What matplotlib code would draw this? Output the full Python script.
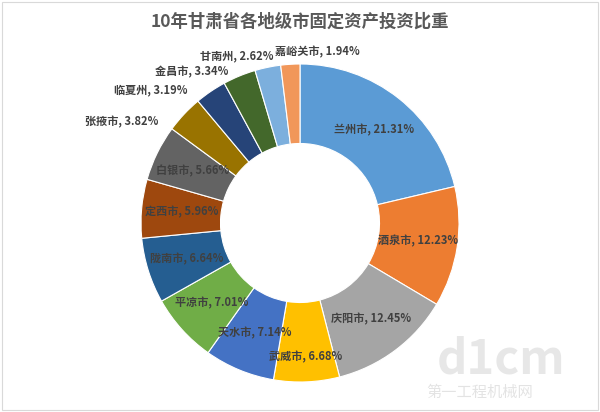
import numpy as np
import matplotlib.pyplot as plt
from matplotlib.patches import Rectangle

plt.rcParams['font.family'] = ['Noto Sans CJK SC', 'DejaVu Sans']

cities = ["兰州市", "酒泉市", "庆阳市", "武威市", "天水市", "平凉市", "陇南市",
          "定西市", "白银市", "张掖市", "临夏州", "金昌市", "甘南州", "嘉峪关市"]
shares = [21.31, 12.23, 12.45, 6.68, 7.14, 7.01, 6.64,
          5.96, 5.66, 3.82, 3.19, 3.34, 2.62, 1.94]
colors = ["#5B9BD5", "#ED7D31", "#A5A5A5", "#FFC000", "#4472C4", "#70AD47", "#255E91",
          "#9E480E", "#636363", "#997300", "#264478", "#43682B", "#7CAFDD", "#F1975A"]

# labels placed outside the ring (Excel best fit), position in units of radius
outside = {
    "张掖市": (-1.12, 0.635),
    "临夏州": (-0.94, 0.835),
    "金昌市": (-0.68, 0.95),
    "甘南州": (-0.40, 1.05),
    "嘉峪关市": (0.11, 1.075),
}
inside_r = {"武威市": 0.84}

W, H = 600, 412
cx, cy, R = 300, 223, 159

fig = plt.figure(figsize=(W / 100, H / 100), dpi=100)
fig.patch.set_facecolor("white")
fig.patches.append(Rectangle((2 / W, 2 / H), 1 - 4 / W, 1 - 4 / H, transform=fig.transFigure,
                             fill=False, edgecolor="#D9D9D9", linewidth=0.8))

ax = fig.add_axes([(cx - R) / W, (H - cy - R) / H, 2 * R / W, 2 * R / H])

wedges, _ = ax.pie(shares, colors=colors, startangle=90, counterclock=False,
                   radius=1.0, wedgeprops=dict(width=0.5, edgecolor="white", linewidth=0.8))
ax.set_xlim(-1, 1)
ax.set_ylim(-1, 1)
ax.set_aspect("equal")
ax.axis("off")

total = sum(shares)
cum = 0.0
for name, v in zip(cities, shares):
    mid = (cum + v / 2) / total * 360
    cum += v
    ang = np.deg2rad(90 - mid)
    txt = f"{name}, {v:.2f}%"
    if name in outside:
        x, y = outside[name]
    else:
        r = inside_r.get(name, 0.75)
        x, y = r * np.cos(ang), r * np.sin(ang)
    ax.text(x, y, txt, ha="center", va="center", fontsize=8,
            fontweight="bold", color="#404040", clip_on=False)

fig.text(0.5, 1 - 22 / H, "10年甘肃省各地级市固定资产投资比重", ha="center", va="center",
         fontsize=12.5, fontweight="bold", color="#595959")

# watermark
fig.text(0.835, 1 - 360 / H, "d1cm", ha="center", va="center", fontsize=34,
         fontweight="bold", color="#DDDDDD", alpha=0.7)
fig.text(0.8, 1 - 392 / H, "第一工程机械网", ha="center", va="center", fontsize=11,
         color="#DDDDDD", alpha=0.8)

fig.savefig("out.png", dpi=100)
